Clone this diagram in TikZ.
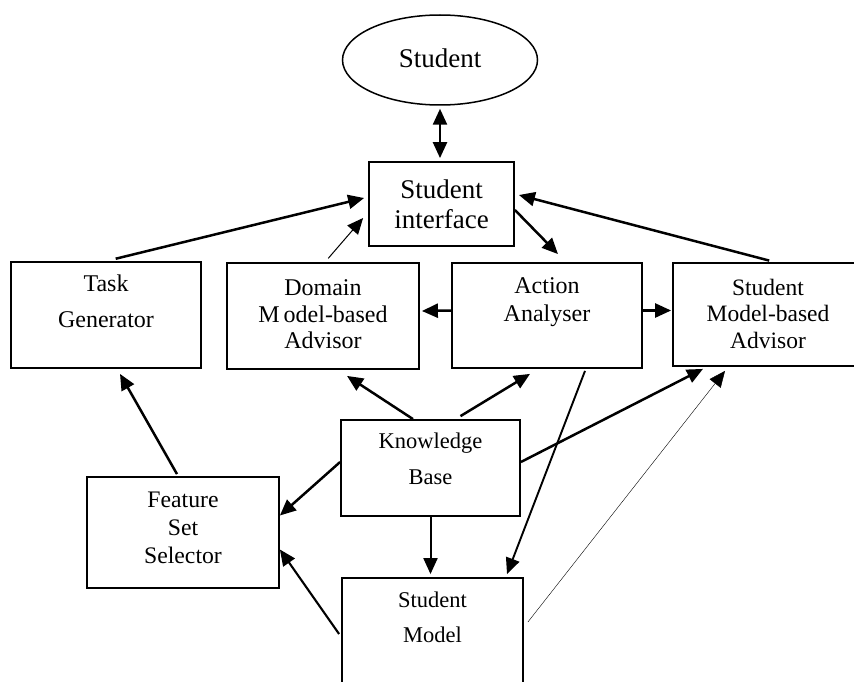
\documentclass[tikz,border=0pt]{standalone}
\usepackage{fontspec}
\setmainfont{Liberation Serif}
\usetikzlibrary{arrows.meta, positioning, shapes.geometric}
\tikzset{
  every picture/.style={line width=1.8pt},
  box/.style={draw, rectangle, line width=1.8pt, inner sep=0pt},
  lbl/.style={align=center, inner sep=0pt, font=\fontsize{24}{27}\selectfont},
  biglbl/.style={lbl, font=\fontsize{27}{30}\selectfont},
  smalllbl/.style={lbl, font=\fontsize{22.5}{26}\selectfont},
  arrow/.style={-{Triangle[length=16pt,width=14pt]}, line width=2.5pt},
  twoway/.style={{Triangle[length=16pt,width=14pt]}-{Triangle[length=16pt,width=14pt]}, line width=2.5pt},
  faint/.style={arrow, line width=1pt},
}

\begin{document}
\begin{tikzpicture}[x=1pt, y=-1pt]
  \clip (0,0) rectangle (854,682);
  % student and interface
  \node[ellipse, draw, line width=1.5pt, minimum width=195pt, minimum height=90pt, inner sep=0pt] (stu) at (440,60) {};
  \node[biglbl] (stutext) at (440,58) {Student};
  \node[box, minimum width=145pt, minimum height=84pt] (si) at (441.5,204) {};
  \node[biglbl, below=18pt of si.north] (sitext) {Student\\interface};
  % middle row
  \node[box, minimum width=190pt, minimum height=106pt] (tg) at (106,315) {};
  \node[lbl, below=13pt of tg.north] (tgtext) {Task\\[9pt]Generator};
  \node[box, minimum width=192pt, minimum height=106pt] (dma) at (323,316) {};
  \node[lbl, below=17pt of dma.north, font=\fontsize{24}{26.5}\selectfont] (dmatext) {Domain\\M\kern4pt odel-based\\Advisor};
  \node[box, minimum width=190pt, minimum height=105pt] (aa) at (547,315.5) {};
  \node[lbl, below=15pt of aa.north, font=\fontsize{24}{28}\selectfont] (aatext) {Action\\Analyser};
  \node[box, minimum width=190pt, minimum height=103pt] (sma) at (768,314.5) {};
  \node[lbl, below=16pt of sma.north, font=\fontsize{23.5}{26.5}\selectfont] (smatext) {Student\\Model-based\\Advisor};
  % lower part
  \node[box, minimum width=179pt, minimum height=96pt] (kb) at (430.5,468) {};
  \node[smalllbl, below=13pt of kb.north] (kbtext) {Knowledge\\[10pt]Base};
  \node[box, minimum width=192pt, minimum height=111pt] (fss) at (183,532.5) {};
  \node[lbl, below=15pt of fss.north, font=\fontsize{23.7}{28}\selectfont] (fsstext) {Feature\\Set\\Selector};
  \node[box, minimum width=181pt, minimum height=142pt] (sm) at (432.5,649) {};
  \node[smalllbl, below=14pt of sm.north] (smtext) {Student\\[9pt]Model};
  % connectors
  \draw[twoway, shorten <=3pt, shorten >=3pt] (stu.south) -- (stu.south |- si.north);
  \draw[arrow, shorten <=10pt] (tg.north) -- ([xshift=-4pt, yshift=6pt]si.west);
  \draw[faint, shorten <=5pt] ([xshift=2pt]dma.north) -- ([xshift=-5pt, yshift=-14pt]si.west);
  \draw[arrow] ([yshift=-6pt]si.east) -- ([xshift=11pt, yshift=8pt]aa.north);
  \draw[arrow, shorten <=6pt] ([xshift=7pt]sma.north) -- ([xshift=4pt, yshift=9pt]si.east);
  \draw[arrow] ([yshift=5pt]aa.west) -- ([yshift=5pt, xshift=2pt]dma.east);
  \draw[arrow] ([yshift=5pt]aa.east) -- ([yshift=4pt, xshift=-1pt]sma.west);
  \draw[arrow] ([xshift=-17.5pt]kb.north) -- ([xshift=24pt, yshift=-6pt]dma.south);
  \draw[arrow] ([xshift=30pt, yshift=3pt]kb.north) -- ([xshift=-17pt, yshift=-5pt]aa.south);
  \draw[arrow] ([yshift=6pt]kb.east) -- ([xshift=-65pt, yshift=-2pt]sma.south);
  \draw[-{Triangle[length=16pt,width=14pt]}, line width=0.4pt] ([xshift=4pt, yshift=27pt]sm.east) -- ([xshift=-43pt, yshift=-4pt]sma.south);
  \draw[arrow, line width=1.9pt] ([xshift=38pt, yshift=-2pt]aa.south) -- ([xshift=74.5pt, yshift=3pt]sm.north);
  \draw[arrow, line width=2pt] (kb.south) -- ([yshift=3pt]kb.south |- sm.north);
  \draw[arrow] ([yshift=6pt]kb.west) -- ([yshift=17pt]fss.east);
  \draw[arrow, line width=2.1pt] ([xshift=-2pt, yshift=15pt]sm.west) -- ([yshift=-17pt]fss.east);
  \draw[arrow] ([xshift=-6pt, yshift=2pt]fss.north) -- ([xshift=14pt, yshift=-5pt]tg.south);
\end{tikzpicture}
\end{document}
